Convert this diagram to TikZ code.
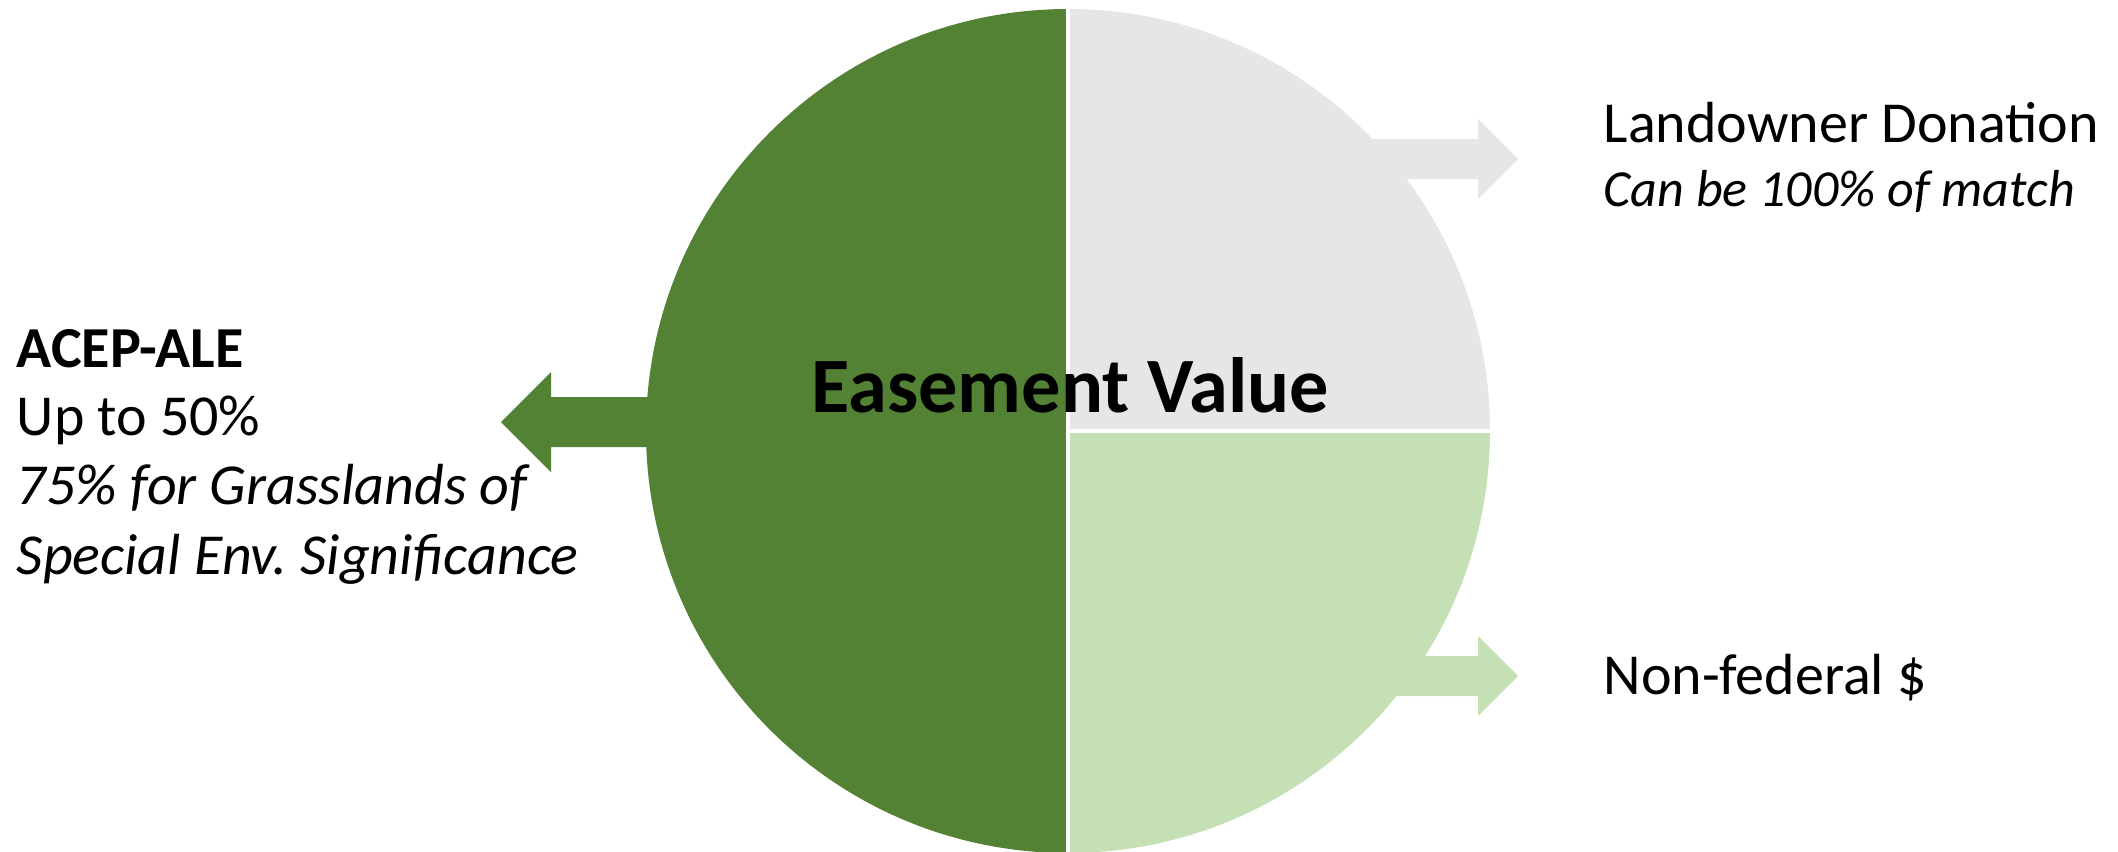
\documentclass[tikz,border=0pt]{standalone}
\usepackage{fontspec}
\setmainfont{Carlito}
\usepackage{xcolor}
\usetikzlibrary{arrows,positioning,calc}
\definecolor{acepgreen}{HTML}{548235}
\definecolor{nonfedgreen}{HTML}{C5E0B4}
\definecolor{donorgray}{HTML}{E7E6E6}
\frenchspacing

\begin{document}
\begin{tikzpicture}[x = .25pt, y = .25pt,
    txt/.style = {anchor = base west, inner sep = 0pt, font = \fontsize{14.5}{17}\selectfont}]
    \useasboundingbox (0,0) rectangle (2118,851);
    \coordinate (c) at (1068,420);
    % arrows (their shafts run under the pie)
    \fill[acepgreen] (800,404) -- (551,404) -- (551,379) -- (501,429) -- (551,479) -- (551,454) -- (800,454) -- cycle;
    \fill[donorgray] (1300,672) -- (1478,672) -- (1478,652) -- (1518,692) -- (1478,732) -- (1478,712) -- (1300,712) -- cycle;
    \fill[nonfedgreen] (1300,155) -- (1478,155) -- (1478,135) -- (1518,175) -- (1478,215) -- (1478,195) -- (1300,195) -- cycle;
    % pie
    \fill[acepgreen] (c) -- (1068,842) arc[start angle = 90, end angle = 270, radius = 422] -- cycle;
    \fill[donorgray] (c) -- (1490,420) arc[start angle = 0, end angle = 90, radius = 422] -- cycle;
    \fill[nonfedgreen] (c) -- (1068,-2) arc[start angle = -90, end angle = 0, radius = 422] -- cycle;
    \draw[white, line width = 1pt] (1068,-4) -- (1068,846);
    \draw[white, line width = 1pt] (c) -- (1492,420);
    \node[anchor = base, inner sep = 0pt, font = \fontsize{19.6}{24}\selectfont\bfseries] (ease) at (1070,439) {Easement Value};
    % labels
    \node[txt, font = \fontsize{14.5}{17}\selectfont\bfseries] (acep) at (16,484) {ACEP-ALE};
    \node[txt] (upto) at (16,416) {Up to 50\%};
    \node[txt, font = \fontsize{14.5}{17}\selectfont\itshape] (grass) at (16,347) {75\% for Grasslands of};
    \node[txt, font = \fontsize{14.5}{17}\selectfont\itshape] (special) at (16,277) {Special Env. Significance};
    \node[txt] (donor) at (1603,709) {Landowner Donation};
    \node[txt, font = \fontsize{13}{16}\selectfont\itshape] (match) at (1603,645) {Can be 100\% of match};
    \node[txt] (nonfed) at (1603,157) {Non-federal \$};
\end{tikzpicture}
\end{document}
